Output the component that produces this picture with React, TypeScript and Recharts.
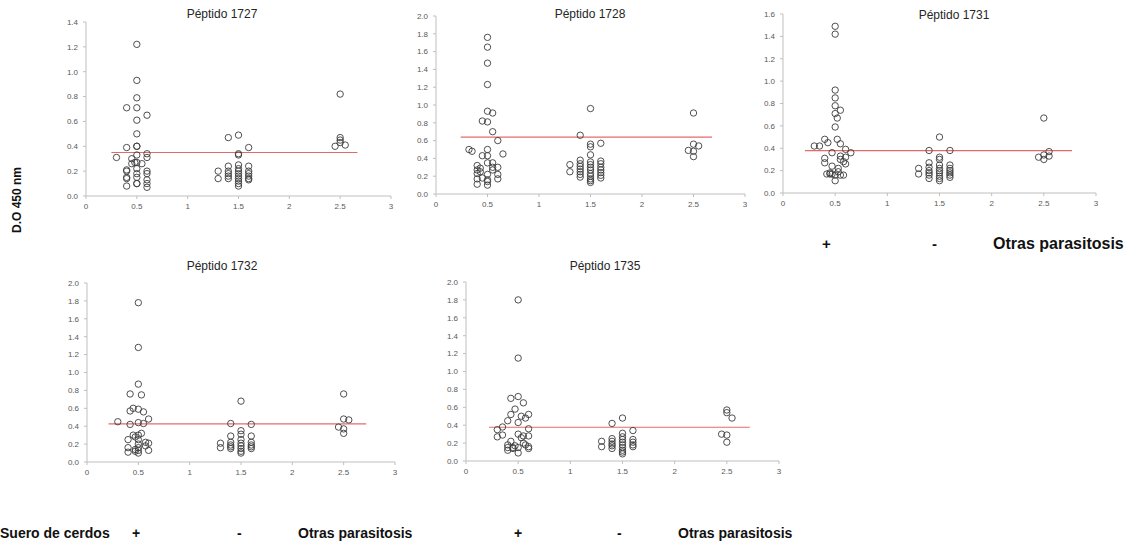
import React from 'react';
import { ScatterChart, Scatter, XAxis, YAxis, ReferenceLine } from 'recharts';

type Pt = [number, number];

// group positions on x: 0.5 = "+", 1.5 = "-", 2.5 = "Otras parasitosis"
const xTicks = [0, 0.5, 1, 1.5, 2, 2.5, 3];

const p1727: Pt[] = [
  [0.5, 1.22], [0.5, 0.93], [0.5, 0.79], [0.5, 0.71], [0.5, 0.61], [0.5, 0.5], [0.5, 0.4], [0.5, 0.4],
  [0.5, 0.33], [0.5, 0.27], [0.5, 0.22], [0.5, 0.18], [0.5, 0.15], [0.5, 0.1], [0.5, 0.1],
  [0.4, 0.71], [0.4, 0.39], [0.4, 0.21], [0.4, 0.2], [0.4, 0.15], [0.4, 0.14], [0.4, 0.08],
  [0.3, 0.31], [0.45, 0.3], [0.45, 0.26], [0.48, 0.27], [0.55, 0.26],
  [0.6, 0.65], [0.6, 0.34], [0.6, 0.31], [0.6, 0.2], [0.6, 0.18], [0.6, 0.13], [0.6, 0.1], [0.6, 0.07],
  [1.3, 0.2], [1.3, 0.14],
  [1.4, 0.47], [1.4, 0.24], [1.4, 0.2], [1.4, 0.18], [1.4, 0.16], [1.4, 0.14],
  [1.5, 0.49], [1.5, 0.34], [1.5, 0.33], [1.5, 0.25], [1.5, 0.22], [1.5, 0.2], [1.5, 0.18], [1.5, 0.16],
  [1.5, 0.14], [1.5, 0.12], [1.5, 0.1], [1.5, 0.08],
  [1.6, 0.39], [1.6, 0.24], [1.6, 0.2], [1.6, 0.18], [1.6, 0.16], [1.6, 0.14], [1.6, 0.13],
  [2.5, 0.82], [2.5, 0.47], [2.5, 0.45], [2.5, 0.43], [2.45, 0.4], [2.55, 0.41],
];

const p1728: Pt[] = [
  [0.5, 1.76], [0.5, 1.65], [0.5, 1.47], [0.5, 1.23], [0.5, 0.93], [0.5, 0.81], [0.5, 0.5], [0.5, 0.43],
  [0.5, 0.35], [0.5, 0.22], [0.5, 0.16], [0.5, 0.14], [0.5, 0.1],
  [0.45, 0.82], [0.45, 0.43], [0.45, 0.18],
  [0.55, 0.91], [0.55, 0.7], [0.55, 0.35], [0.55, 0.3], [0.55, 0.27],
  [0.6, 0.6], [0.6, 0.3], [0.6, 0.22], [0.6, 0.17], [0.65, 0.45],
  [0.32, 0.5], [0.35, 0.48],
  [0.4, 0.32], [0.4, 0.27], [0.4, 0.23], [0.4, 0.17], [0.4, 0.11], [0.43, 0.29], [0.43, 0.25],
  [1.3, 0.33], [1.3, 0.25],
  [1.4, 0.66], [1.4, 0.38], [1.4, 0.34], [1.4, 0.31], [1.4, 0.28], [1.4, 0.25], [1.4, 0.22], [1.4, 0.19],
  [1.5, 0.96], [1.5, 0.56], [1.5, 0.53], [1.5, 0.44], [1.5, 0.36], [1.5, 0.33], [1.5, 0.3], [1.5, 0.27],
  [1.5, 0.23], [1.5, 0.2], [1.5, 0.17], [1.5, 0.15], [1.5, 0.13],
  [1.6, 0.57], [1.6, 0.37], [1.6, 0.34], [1.6, 0.3], [1.6, 0.27], [1.6, 0.24], [1.6, 0.21], [1.6, 0.18],
  [2.5, 0.91], [2.5, 0.56], [2.5, 0.48], [2.5, 0.42], [2.45, 0.49], [2.55, 0.54],
];

const p1731: Pt[] = [
  [0.5, 1.49], [0.5, 1.42], [0.5, 0.92], [0.5, 0.85], [0.5, 0.78], [0.5, 0.71], [0.5, 0.59], [0.5, 0.16], [0.5, 0.11],
  [0.52, 0.67], [0.52, 0.48],
  [0.55, 0.74], [0.55, 0.44], [0.55, 0.33], [0.55, 0.3], [0.55, 0.16],
  [0.3, 0.42], [0.35, 0.42],
  [0.4, 0.48], [0.4, 0.31], [0.4, 0.27], [0.43, 0.45],
  [0.47, 0.36], [0.47, 0.24], [0.47, 0.17], [0.45, 0.18], [0.45, 0.17], [0.42, 0.17],
  [0.6, 0.39], [0.6, 0.32], [0.6, 0.26], [0.58, 0.28], [0.58, 0.16], [0.65, 0.36],
  [0.53, 0.22], [0.53, 0.19],
  [1.3, 0.22], [1.3, 0.17],
  [1.4, 0.38], [1.4, 0.27], [1.4, 0.23], [1.4, 0.2], [1.4, 0.18], [1.4, 0.16], [1.4, 0.13],
  [1.5, 0.5], [1.5, 0.32], [1.5, 0.3], [1.5, 0.25], [1.5, 0.22], [1.5, 0.2], [1.5, 0.18], [1.5, 0.15],
  [1.5, 0.13], [1.5, 0.11],
  [1.6, 0.38], [1.6, 0.25], [1.6, 0.22], [1.6, 0.2], [1.6, 0.18], [1.6, 0.16], [1.6, 0.14],
  [2.5, 0.67], [2.5, 0.34], [2.5, 0.3], [2.45, 0.32], [2.55, 0.37], [2.55, 0.33],
];

const p1732: Pt[] = [
  [0.5, 1.78], [0.5, 1.28], [0.5, 0.87], [0.5, 0.59], [0.5, 0.44], [0.5, 0.3], [0.5, 0.25], [0.5, 0.2],
  [0.5, 0.16], [0.5, 0.13], [0.5, 0.1],
  [0.3, 0.45],
  [0.42, 0.76], [0.42, 0.57], [0.42, 0.42], [0.45, 0.6], [0.45, 0.3],
  [0.53, 0.75], [0.53, 0.32], [0.55, 0.56], [0.55, 0.43],
  [0.6, 0.48], [0.6, 0.21], [0.6, 0.13],
  [0.4, 0.25], [0.4, 0.16], [0.4, 0.11], [0.47, 0.28], [0.47, 0.14], [0.47, 0.12], [0.57, 0.18], [0.57, 0.22],
  [1.3, 0.21], [1.3, 0.16],
  [1.4, 0.43], [1.4, 0.29], [1.4, 0.22], [1.4, 0.19], [1.4, 0.17], [1.4, 0.15],
  [1.5, 0.68], [1.5, 0.35], [1.5, 0.31], [1.5, 0.25], [1.5, 0.21], [1.5, 0.18], [1.5, 0.15], [1.5, 0.12], [1.5, 0.1],
  [1.6, 0.42], [1.6, 0.29], [1.6, 0.22], [1.6, 0.19], [1.6, 0.17], [1.6, 0.15],
  [2.5, 0.76], [2.5, 0.48], [2.5, 0.37], [2.5, 0.32], [2.45, 0.39], [2.55, 0.47],
];

const p1735: Pt[] = [
  [0.5, 1.8], [0.5, 1.15], [0.5, 0.72], [0.5, 0.43], [0.5, 0.3], [0.5, 0.15], [0.5, 0.09],
  [0.3, 0.35], [0.3, 0.27], [0.35, 0.38], [0.35, 0.29],
  [0.4, 0.45], [0.4, 0.18], [0.4, 0.15], [0.4, 0.12],
  [0.43, 0.7], [0.43, 0.52], [0.43, 0.22], [0.47, 0.58], [0.47, 0.17],
  [0.53, 0.5], [0.53, 0.26], [0.55, 0.65], [0.55, 0.28], [0.55, 0.2], [0.57, 0.48], [0.57, 0.18],
  [0.6, 0.52], [0.6, 0.36], [0.6, 0.28], [0.6, 0.16], [0.6, 0.14], [0.45, 0.15], [0.45, 0.14],
  [1.3, 0.22], [1.3, 0.16],
  [1.4, 0.42], [1.4, 0.25], [1.4, 0.22], [1.4, 0.19], [1.4, 0.17], [1.4, 0.14],
  [1.5, 0.48], [1.5, 0.31], [1.5, 0.27], [1.5, 0.24], [1.5, 0.21], [1.5, 0.18], [1.5, 0.15], [1.5, 0.12],
  [1.5, 0.1], [1.5, 0.08],
  [1.6, 0.34], [1.6, 0.24], [1.6, 0.21], [1.6, 0.18], [1.6, 0.16],
  [2.5, 0.57], [2.5, 0.54], [2.5, 0.29], [2.5, 0.21], [2.45, 0.3], [2.55, 0.48],
];

const titles = ['Péptido 1727', 'Péptido 1728', 'Péptido 1731', 'Péptido 1732', 'Péptido 1735'];
const series = [p1727, p1728, p1731, p1732, p1735];
const yMax = [1.4, 2.0, 1.6, 2.0, 2.0];
const cutoffs = [0.35, 0.64, 0.378, 0.425, 0.377];
const cutStart = [0.25, 0.24, 0.21, 0.21, 0.22];
const cutEnd = [2.67, 2.68, 2.77, 2.72, 2.72];

// plot area in page pixels: left, right, top, bottom (+ title centre)
const plotBoxes = [
  { l: 86, r: 391, t: 22, b: 196, tx: 222, ty: 14 },
  { l: 436, r: 745, t: 16, b: 194, tx: 590, ty: 14 },
  { l: 783, r: 1096, t: 14, b: 193, tx: 954, ty: 15 },
  { l: 87, r: 395, t: 283, b: 462, tx: 222, ty: 266 },
  { l: 466, r: 779, t: 282, b: 461, tx: 605, ty: 266 },
];

const ML = 6, YW = 34, MT = 10, MR = 14, XH = 20, MB = 2;
const axisGrey = '#bfbfbf';
const tickStyle = { fontSize: 8, fill: '#595959', fontFamily: 'Liberation Sans' };

const Ring = (props: any) => (
  <circle cx={props.cx} cy={props.cy} r={3.2} fill="none" stroke="#3c3c3c" strokeWidth={0.9} />
);

const yTicksFor = (max: number) => {
  const out: number[] = [];
  for (let i = 0; i <= Math.round(max / 0.2); i++) out.push(Number((i * 0.2).toFixed(1)));
  return out;
};

const Panel = ({ i }: { i: number }) => {
  const box = plotBoxes[i];
  const width = box.r - box.l + ML + YW + MR;
  const height = box.b - box.t + MT + XH + MB;
  const data = series[i].map(([x, y]) => ({ x, y }));
  return (
    <>
      <div style={{ position: 'absolute', left: box.l - ML - YW, top: box.t - MT }}>
        <ScatterChart width={width} height={height} margin={{ top: MT, right: MR, left: ML, bottom: MB }}>
          <XAxis
            type="number"
            dataKey="x"
            domain={[0, 3]}
            ticks={xTicks}
            height={XH}
            tick={tickStyle}
            tickSize={3}
            tickMargin={4}
            stroke={axisGrey}
            tickFormatter={(v: number) => String(v)}
          />
          <YAxis
            type="number"
            dataKey="y"
            domain={[0, yMax[i]]}
            ticks={yTicksFor(yMax[i])}
            width={YW}
            tick={tickStyle}
            tickSize={3}
            tickMargin={5}
            stroke={axisGrey}
            tickFormatter={(v: number) => v.toFixed(1)}
          />
          <ReferenceLine
            segment={[{ x: cutStart[i], y: cutoffs[i] }, { x: cutEnd[i], y: cutoffs[i] }]}
            stroke="#e46a6a"
            strokeWidth={1.2}
          />
          <Scatter data={data} shape={Ring} isAnimationActive={false} />
        </ScatterChart>
      </div>
      <div
        style={{
          position: 'absolute',
          left: box.tx - 60,
          width: 120,
          top: box.ty - 8,
          textAlign: 'center',
          fontSize: 12,
          color: '#262626',
          lineHeight: '16px',
        }}
      >
        {titles[i]}
      </div>
    </>
  );
};

const bold = { position: 'absolute' as const, fontWeight: 700, fontSize: 14, color: '#111', whiteSpace: 'nowrap' as const, lineHeight: '16px' };

export default function App() {
  return (
    <div style={{ position: 'absolute', left: 0, top: 0, width: 1140, height: 548, background: '#fff', overflow: 'hidden', fontFamily: 'Liberation Sans' }}>
      {titles.map((_, i) => (
        <Panel key={i} i={i} />
      ))}
      <div
        style={{
          position: 'absolute',
          left: 17 - 40,
          top: 200 - 8,
          width: 80,
          textAlign: 'center',
          transform: 'rotate(-90deg)',
          fontWeight: 700,
          fontSize: 12,
          lineHeight: '16px',
          color: '#111',
        }}
      >
        D.O 450 nm
      </div>
      {/* group labels under Péptido 1731 */}
      <div style={{ ...bold, left: 822, top: 236, fontSize: 15 }}>+</div>
      <div style={{ ...bold, left: 932, top: 236, fontSize: 15 }}>-</div>
      <div style={{ ...bold, left: 993, top: 236, fontSize: 16 }}>Otras parasitosis</div>
      {/* group labels under bottom row */}
      <div style={{ ...bold, left: 0, top: 525 }}>Suero de cerdos</div>
      <div style={{ ...bold, left: 132, top: 525 }}>+</div>
      <div style={{ ...bold, left: 237, top: 525 }}>-</div>
      <div style={{ ...bold, left: 298, top: 525 }}>Otras parasitosis</div>
      <div style={{ ...bold, left: 514, top: 525 }}>+</div>
      <div style={{ ...bold, left: 617, top: 525 }}>-</div>
      <div style={{ ...bold, left: 678, top: 525 }}>Otras parasitosis</div>
    </div>
  );
}
